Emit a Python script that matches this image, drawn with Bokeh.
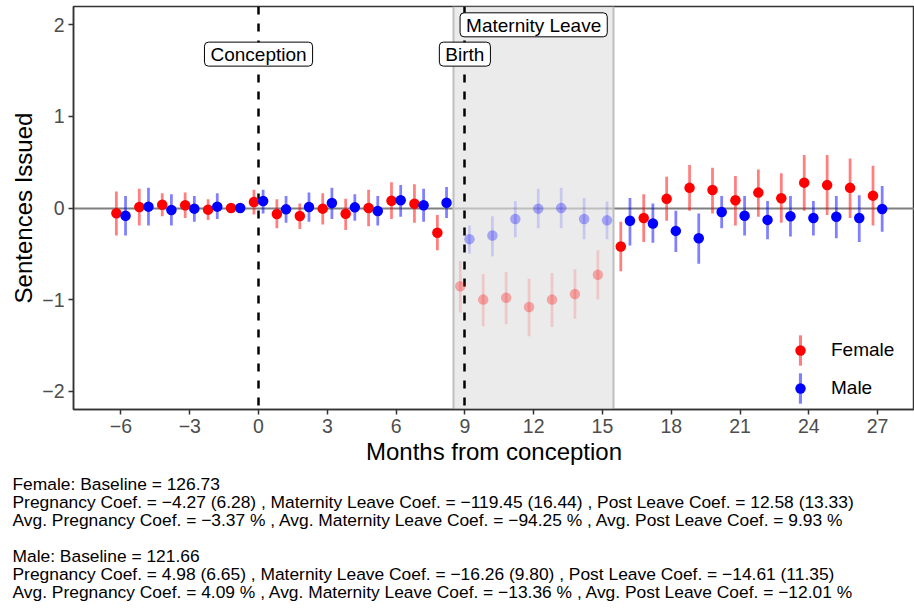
import numpy as np
from bokeh.plotting import figure
from bokeh.models import ColumnDataSource, Range1d, FixedTicker, Legend, LegendItem, Title
from bokeh.core.properties import value
from bokeh.embed import file_html
from bokeh.resources import INLINE

# ---------------- data ----------------
months = list(range(-6, 28))

female_est = [-0.058, 0.01, 0.036, 0.03, -0.018, 0.0, 0.066, -0.066, -0.088, -0.007,
              -0.062, 0.0, 0.08, 0.047, -0.27, -0.854, -1.0, -0.98, -1.08, -1.0,
              -0.94, -0.73, -0.42, -0.11, 0.1, 0.22, 0.197, 0.084, 0.168, 0.106,
              0.277, 0.25, 0.22, 0.135]
female_lo = [-0.30, -0.19, -0.09, -0.11, -0.13, 0.0, -0.07, -0.22, -0.23, -0.18,
             -0.24, -0.20, -0.12, -0.16, -0.46, -1.14, -1.29, -1.27, -1.40, -1.30,
             -1.21, -1.00, -0.69, -0.37, -0.14, -0.03, -0.06, -0.19, -0.095, -0.16,
             -0.03, -0.077, -0.11, -0.19]
female_hi = [0.18, 0.21, 0.16, 0.17, 0.095, 0.0, 0.20, 0.095, 0.05, 0.16,
             0.10, 0.20, 0.28, 0.26, -0.077, -0.58, -0.72, -0.70, -0.77, -0.71,
             -0.67, -0.46, -0.15, 0.15, 0.34, 0.47, 0.44, 0.35, 0.42, 0.38,
             0.58, 0.58, 0.54, 0.46]

male_est = [-0.084, 0.015, -0.022, -0.007, 0.015, 0.0, 0.077, -0.015, 0.011, 0.055,
            0.007, -0.033, 0.084, 0.03, 0.058, -0.34, -0.30, -0.12, -0.007, 0.0,
            -0.12, -0.135, -0.14, -0.17, -0.25, -0.33, -0.044, -0.084, -0.13, -0.09,
            -0.11, -0.095, -0.11, -0.011]
male_lo = [-0.30, -0.19, -0.19, -0.15, -0.12, 0.0, -0.06, -0.16, -0.15, -0.12,
           -0.14, -0.19, -0.095, -0.15, -0.11, -0.50, -0.53, -0.32, -0.22, -0.22,
           -0.34, -0.34, -0.41, -0.38, -0.48, -0.61, -0.22, -0.30, -0.34, -0.31,
           -0.30, -0.33, -0.37, -0.26]
male_hi = [0.13, 0.22, 0.15, 0.13, 0.16, 0.0, 0.20, 0.13, 0.17, 0.22,
           0.15, 0.13, 0.25, 0.21, 0.23, -0.19, -0.09, 0.077, 0.21, 0.22,
           0.11, 0.07, 0.11, 0.05, -0.03, -0.06, 0.13, 0.13, 0.077, 0.13,
           0.077, 0.13, 0.14, 0.24]

x_ticks = [-6, -3, 0, 3, 6, 9, 12, 15, 18, 21, 24, 27]
y_ticks = [-2, -1, 0, 1, 2]

leave_start, leave_end = 8.5, 15.5
event_lines = [0, 9]
event_labels = ["Conception", "Birth", "Maternity Leave"]
event_x = [0, 9, 12]
event_y = [1.68, 1.68, 2.0]

footnote_lines = [
    "Female: Baseline = 126.73",
    "Pregnancy Coef. = \u22124.27 (6.28)  , Maternity Leave Coef. = \u2212119.45 (16.44)  , Post Leave Coef. = 12.58 (13.33)",
    "Avg. Pregnancy Coef. = \u22123.37 %  , Avg. Maternity Leave Coef. = \u221294.25 %  , Avg. Post Leave Coef. = 9.93 %",
    "",
    "Male: Baseline = 121.66",
    "Pregnancy Coef. = 4.98 (6.65)  , Maternity Leave Coef. = \u221216.26 (9.80)  , Post Leave Coef. = \u221214.61 (11.35)",
    "Avg. Pregnancy Coef. = 4.09 %  , Avg. Maternity Leave Coef. = \u221213.36 %  , Avg. Post Leave Coef. = \u221212.01 %",
]

# ---------------- styling ----------------
FONT = "Liberation Sans"
RED, BLUE = "#FF0000", "#0000FF"
DODGE = 0.2
BAR_W = 0.12
W, H = 914, 608
LEFT_BORDER = 73

p = figure(width=W, height=H, output_backend="svg", toolbar_location=None,
           x_range=Range1d(-8.07, 28.61), y_range=Range1d(-2.2, 2.2),
           min_border_left=LEFT_BORDER, min_border_right=0, min_border_top=6, min_border_bottom=199)
p.xgrid.visible = False
p.ygrid.visible = False
p.outline_line_color = "#333333"
p.outline_line_width = 1.5
p.background_fill_color = "white"
p.border_fill_color = "white"

# zero line, leave shading, event lines
p.hspan(y=[0], line_color="#7F7F7F", line_width=2)
p.vstrip(x0=[leave_start], x1=[leave_end], fill_color="#E0E0E0", fill_alpha=0.65,
         line_color="#BEBEBE", line_width=2)
p.vspan(x=event_lines, line_color="black", line_width=2.5, line_dash="8 9")

m = np.array(months, dtype=float)
in_leave = (m > leave_start) & (m < leave_end)


def make_sources(est, lo, hi, offset):
    est, lo, hi = np.array(est), np.array(lo), np.array(hi)
    out = []
    for mask in (~in_leave, in_leave):
        out.append(ColumnDataSource(dict(x=m[mask] + offset, y=est[mask], lo=lo[mask], hi=hi[mask])))
    return out


f_norm, f_fade = make_sources(female_est, female_lo, female_hi, -DODGE)
m_norm, m_fade = make_sources(male_est, male_lo, male_hi, DODGE)

renders = {}
for name, color, src_n, src_f in (("f", RED, f_norm, f_fade), ("m", BLUE, m_norm, m_fade)):
    renders[name + "_bar"] = p.vbar(x="x", width=BAR_W, bottom="lo", top="hi", source=src_n,
                                    fill_color=color, fill_alpha=0.5, line_color=None)
    p.vbar(x="x", width=BAR_W, bottom="lo", top="hi", source=src_f,
           fill_color=color, fill_alpha=0.15, line_color=None)
for name, color, src_n, src_f in (("f", RED, f_norm, f_fade), ("m", BLUE, m_norm, m_fade)):
    renders[name + "_pt"] = p.scatter(x="x", y="y", source=src_n, size=10.5, marker="circle",
                                      fill_color=color, line_color=None)
    p.scatter(x="x", y="y", source=src_f, size=10.5, marker="circle",
              fill_color=color, fill_alpha=0.3, line_color=None)

# event labels
lab_src = ColumnDataSource(dict(x=event_x, y=event_y, text=event_labels))
p.text(x="x", y="y", text="text", source=lab_src, text_align="center", text_baseline="middle",
       text_font=value(FONT), text_font_size="19px", text_color="black",
       background_fill_color="white", border_line_color="black", border_line_width=1,
       border_radius=4, padding=dict(left=6, right=6, top=2, bottom=1))

# axes
p.xaxis.ticker = FixedTicker(ticks=x_ticks)
p.yaxis.ticker = FixedTicker(ticks=y_ticks)
p.xaxis.major_label_overrides = {t: (("\u2212" + str(-t)) if t < 0 else str(t)) for t in x_ticks}
p.yaxis.major_label_overrides = {t: (("\u2212" + str(-t)) if t < 0 else str(t)) for t in y_ticks}
p.xaxis.axis_label = "Months from conception"
p.yaxis.axis_label = "Sentences Issued"
for ax in (p.xaxis, p.yaxis):
    ax.axis_line_color = "#333333"
    ax.axis_line_width = 1.5
    ax.major_tick_line_color = "#333333"
    ax.major_tick_line_width = 1.5
    ax.major_tick_out = 5
    ax.major_tick_in = 0
    ax.minor_tick_line_color = None
    ax.major_label_text_font = FONT
    ax.major_label_text_font_size = "19.5px"
    ax.major_label_text_color = "#4D4D4D"
    ax.major_label_standoff = 4
    ax.axis_label_text_font = FONT
    ax.axis_label_text_font_size = "24px"
    ax.axis_label_text_font_style = "normal"
    ax.axis_label_text_color = "black"
    ax.axis_label_standoff = 2

# legends: error-bar keys and point keys overlaid
leg_bars = Legend(items=[LegendItem(label=" ", renderers=[renders["f_bar"]]),
                         LegendItem(label=" ", renderers=[renders["m_bar"]])],
                  location=(725, 2), glyph_width=4, glyph_height=38, spacing=0, padding=0,
                  margin=0, label_text_font_size="18px",
                  background_fill_alpha=0, border_line_alpha=0)
leg_pts = Legend(items=[LegendItem(label="Female", renderers=[renders["f_pt"]]),
                        LegendItem(label="Male", renderers=[renders["m_pt"]])],
                 location=(714, 8), glyph_width=26, glyph_height=26, spacing=12, padding=0,
                 margin=0, label_standoff=18, label_text_font=FONT, label_text_font_size="19px",
                 label_text_color="black", background_fill_alpha=0, border_line_alpha=0)
p.add_layout(leg_bars)
p.add_layout(leg_pts)

# ---------------- footnote lines as stacked titles below the x axis ----------------
p.add_layout(Title(text=" ", text_font_size="6px", standoff=0), "below")  # small spacer
for txt in footnote_lines:
    p.add_layout(Title(text=txt if txt else " ", align="left", vertical_align="top",
                       offset=12 - LEFT_BORDER, standoff=-3.6,
                       text_font=FONT, text_font_size="17.4px", text_font_style="normal",
                       text_color="black"), "below")

open("out.html", "w").write(file_html(p, INLINE))
